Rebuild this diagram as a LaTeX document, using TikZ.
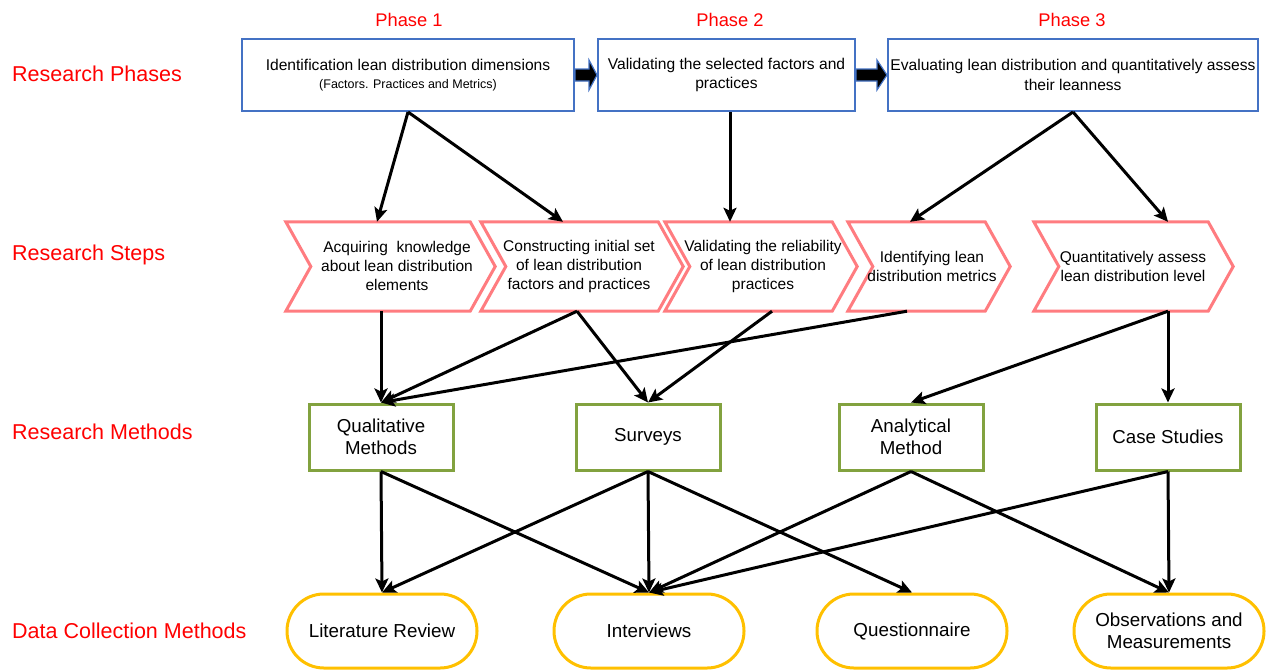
\documentclass[tikz,border=0pt]{standalone}
\usepackage{fontspec}
\setmainfont{Liberation Sans}
\usetikzlibrary{arrows.meta,calc}
\definecolor{phaseblue}{HTML}{4472C4}
\definecolor{stepred}{HTML}{FF7C80}
\definecolor{methgreen}{HTML}{82A23F}
\definecolor{datagold}{HTML}{FFC000}
\definecolor{labred}{HTML}{FF0000}
\begin{document}
\begin{tikzpicture}[x=1pt,y=-1pt,
  rowlabel/.style={anchor=west, inner sep=0, text=labred, font=\fontsize{21.5}{26}\selectfont},
  phaselabel/.style={inner sep=0, text=labred, font=\fontsize{18.3}{22}\selectfont},
  phasebox/.style={draw=phaseblue, line width=2pt, fill=white, minimum height=72pt, inner sep=0, align=center, font=\fontsize{15.6}{19.5}\selectfont},
  stepframe/.style={minimum height=89pt, inner sep=0, draw=none},
  steptext/.style={inner sep=0, align=center, font=\fontsize{15.5}{19}\selectfont},
  stepline/.style={draw=stepred, line width=3pt, fill=white, line join=miter},
  methbox/.style={draw=methgreen, line width=3pt, minimum width=144pt, minimum height=66pt, inner sep=0, align=center, font=\fontsize{18.7}{22}\selectfont},
  dataoval/.style={draw=datagold, line width=3pt, rounded corners=36.9pt, minimum width=190pt, minimum height=74pt, inner sep=0, align=center, font=\fontsize{18.8}{22}\selectfont},
  blockarrow/.style={fill=black, draw=phaseblue, line width=1.2pt, line join=miter},
  conn/.style={-{Stealth[length=14pt,width=13pt,inset=3pt]}, line width=3pt, black}
]
\useasboundingbox (0,0) rectangle (1271,670);

% row labels
\node[rowlabel] (lphase) at (12,74) {Research Phases};
\node[rowlabel] (lstep) at (12,255) {Research Steps};
\node[rowlabel] (lmeth) at (12,432) {Research Methods};
\node[rowlabel] (ldata) at (12,631) {Data Collection Methods};

% phase labels
\node[phaselabel] (ph1) at (409,20) {Phase 1};
\node[phaselabel] (ph2) at (730,20) {Phase 2};
\node[phaselabel] (ph3) at (1072,20) {Phase 3};

% phase boxes
\node[phasebox, minimum width=332pt] (p1) at (408,75) {Identification lean distribution dimensions\\[-1pt]{\fontsize{12.5}{15}\selectfont (Factors. Practices and Metrics)}};
\node[phasebox, minimum width=257pt] (p2) at (726.5,75) {Validating the selected factors and\\practices};
\node[phasebox, minimum width=370pt] (p3) at (1073,75) {Evaluating lean distribution and quantitatively assess\\their leanness};

\draw[blockarrow] ($(p1.east)+(0,-6)$) -- ($(p1.east)+(14,-6)$) -- ($(p1.east)+(14,-15)$) -- (p2.west) -- ($(p1.east)+(14,15)$) -- ($(p1.east)+(14,6)$) -- ($(p1.east)+(0,6)$) -- cycle;
\draw[blockarrow] ($(p2.east)+(0,-6)$) -- ($(p2.east)+(21,-6)$) -- ($(p2.east)+(21,-15)$) -- (p3.west) -- ($(p2.east)+(21,15)$) -- ($(p2.east)+(21,6)$) -- ($(p2.east)+(0,6)$) -- cycle;

% step chevrons: frames
\node[stepframe, minimum width=209pt] (c1) at (390.5,266.5) {};
\node[stepframe, minimum width=202pt] (c2) at (582,266.5) {};
\node[stepframe, minimum width=192pt] (c3) at (761,266.5) {};
\node[stepframe, minimum width=162pt] (c4) at (929,266.5) {};
\node[stepframe, minimum width=199pt] (c5) at (1133.5,266.5) {};
\foreach \c in {c1,c2,c3,c4,c5}{
  \draw[stepline] (\c.north west) -- ([xshift=-25pt]\c.north east) -- (\c.east) -- ([xshift=-25pt]\c.south east) -- (\c.south west) -- ([xshift=25pt]\c.west) -- cycle;
}
\node[steptext] (t1) at (397,266) {Acquiring\ \ knowledge\\about lean distribution\\elements};
\node[steptext] (t2) at (579,266) {Constructing initial set\\of lean distribution\\factors and practices};
\node[steptext] (t3) at (763,266) {Validating the reliability\\of lean distribution\\practices};
\node[steptext] (t4) at (932,266) {Identifying lean\\distribution metrics};
\node[steptext] (t5) at (1133,266) {Quantitatively assess\\lean distribution level};

% research methods
\node[methbox] (qm) at (381,437) {Qualitative\\Methods};
\node[methbox] (sv) at (648,437) {Surveys};
\node[methbox] (an) at (911,437) {Analytical\\Method};
\node[methbox] (cs) at (1168,437) {Case Studies};

% data collection
\node[dataoval] (lr) at (382,631) {Literature Review};
\node[dataoval] (iv) at (649,631) {Interviews};
\node[dataoval] (qn) at (912,631) {Questionnaire};
\node[dataoval] (ob) at (1169,631) {Observations and\\Measurements};

% phases -> steps
\draw[conn] (p1.south) -- ([xshift=-13.5pt]c1.north);
\draw[conn] (p1.south) -- ([xshift=-19pt]c2.north);
\draw[conn] ([xshift=3.5pt]p2.south) -- ([xshift=-31pt]c3.north);
\draw[conn] (p3.south) -- ([xshift=-19pt]c4.north);
\draw[conn] (p3.south) -- ([xshift=34.5pt]c5.north);

% steps -> methods
\draw[conn] ([xshift=-9.5pt]c1.south) -- (qm.north);
\draw[conn] ([xshift=-5pt]c2.south) -- (qm.north);
\draw[conn] ([xshift=-5pt]c2.south) -- (sv.north);
\draw[conn] ([xshift=11pt]c3.south) -- (sv.north);
\draw[conn] ([xshift=-22pt]c4.south) -- (qm.north);
\draw[conn] ([xshift=34.5pt]c5.south) -- (an.north);
\draw[conn] ([xshift=34.5pt]c5.south) -- (cs.north);

% methods -> data collection
\draw[conn] (qm.south) -- (lr.north);
\draw[conn] (qm.south) -- (iv.north);
\draw[conn] (sv.south) -- (lr.north);
\draw[conn] (sv.south) -- (iv.north);
\draw[conn] (sv.south) -- (qn.north);
\draw[conn] (an.south) -- (iv.north);
\draw[conn] (an.south) -- (ob.north);
\draw[conn] (cs.south) -- (iv.north);
\draw[conn] (cs.south) -- (ob.north);
\end{tikzpicture}
\end{document}
